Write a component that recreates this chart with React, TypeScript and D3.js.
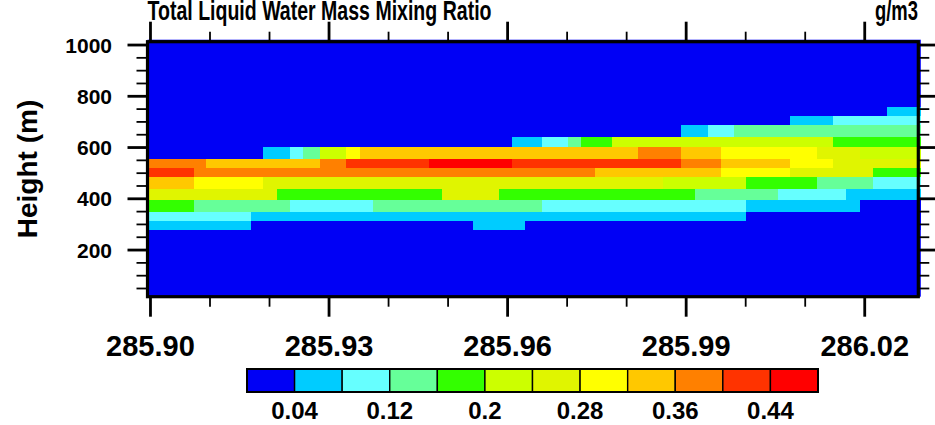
import React, { useEffect, useRef } from "react";
import * as d3 from "d3";

const title = "Total Liquid Water Mass Mixing Ratio";
const units = "g/m3";
const yTitle = "Height (m)";

// contour levels (g/m3) and the 12 fill colours between them
const levels = [0.04, 0.08, 0.12, 0.16, 0.2, 0.24, 0.28, 0.32, 0.36, 0.4, 0.44];
const levelLabels = ["0.04", "0.12", "0.2", "0.28", "0.36", "0.44"];
const fillColors = [
  "#0000f5",
  "#00ccff",
  "#66ffff",
  "#66ff99",
  "#33ff00",
  "#ccff00",
  "#e0f500",
  "#ffff00",
  "#ffc800",
  "#ff8000",
  "#ff3300",
  "#ff0000",
];

const xTicks = [285.9, 285.93, 285.96, 285.99, 286.02];
const xTickLabels = ["285.90", "285.93", "285.96", "285.99", "286.02"];
const yTicks = [200, 400, 600, 800, 1000];

const xExtent = [285.8995, 286.029];
const yExtent = [18, 1013];

// height bounds (m) of the rows that hold cloud water, top to bottom
const rowEdges = [760, 725, 688, 640, 604, 554, 519, 484, 437, 397, 350, 314, 281];

// each row: [x where a run starts, colour index]; a run lasts until the next one
const X0 = xExtent[0];
const rows = [
  [[X0, 0], [286.0237, 1]],
  [[X0, 0], [286.0074, 1], [286.0147, 2]],
  [[X0, 0], [285.9892, 1], [285.9937, 2], [285.998, 3]],
  [[X0, 0], [285.9607, 1], [285.9657, 2], [285.9702, 3], [285.9724, 4], [285.9775, 5], [286.0147, 4]],
  [[X0, 0], [285.9189, 1], [285.9234, 2], [285.9256, 3], [285.9284, 5], [285.9329, 7], [285.9352, 8],
    [285.9819, 9], [285.9892, 8], [285.9959, 7], [286.0119, 6], [286.0192, 5]],
  [[X0, 9], [285.9094, 8], [285.9284, 9], [285.9329, 10], [285.9468, 11], [285.9607, 10],
    [285.9892, 9], [285.9959, 8], [286.0074, 7], [286.0147, 6]],
  [[X0, 10], [285.9073, 9], [285.9746, 8], [285.9959, 7], [286.0074, 6], [286.0214, 4]],
  [[X0, 8], [285.9073, 7], [285.9189, 6], [285.9861, 5], [286.0001, 4], [286.0119, 3], [286.0214, 2]],
  [[X0, 6], [285.9213, 4], [285.9489, 6], [285.9586, 4], [285.9914, 3], [286.0054, 2], [286.0169, 1]],
  [[X0, 4], [285.9073, 3], [285.9234, 2], [285.9374, 3], [285.9657, 2], [286.0001, 1], [286.0192, 0]],
  [[X0, 2], [285.9169, 1], [286.0001, 0]],
  [[X0, 1], [285.9169, 0], [285.9542, 1], [285.9629, 0]],
];

const font = "'Liberation Sans', Arial, Helvetica, sans-serif";

export default function App() {
  const svgRef = useRef(null);
  const width = 935;
  const height = 425;
  const plot = { left: 147.5, right: 918.3, top: 41.7, bottom: 296.7 };

  useEffect(() => {
    const svg = d3.select(svgRef.current);
    svg.selectAll("*").remove();

    const x = d3.scaleLinear().domain(xExtent).range([plot.left, plot.right]);
    const y = d3.scaleLinear().domain(yExtent).range([plot.bottom, plot.top]);

    // raster (runs slightly past the frame top/right like the original)
    svg
      .append("rect")
      .attr("x", plot.left)
      .attr("y", plot.top - 2)
      .attr("width", plot.right - plot.left + 2.5)
      .attr("height", plot.bottom - plot.top + 2)
      .attr("fill", fillColors[0]);

    const cells = [];
    rows.forEach((runs, r) => {
      runs.forEach((run, i) => {
        const next = i < runs.length - 1 ? runs[i + 1][0] : xExtent[1];
        cells.push({ x0: run[0], x1: next, top: rowEdges[r], bot: rowEdges[r + 1], c: run[1], last: i === runs.length - 1 });
      });
    });

    svg
      .append("g")
      .selectAll("rect")
      .data(cells)
      .enter()
      .append("rect")
      .attr("x", (d) => x(d.x0))
      .attr("y", (d) => y(d.top))
      .attr("width", (d) => x(d.x1) - x(d.x0) + (d.last ? 2.5 : 0.4))
      .attr("height", (d) => y(d.bot) - y(d.top) + 0.4)
      .attr("fill", (d) => fillColors[d.c])
      .style("shape-rendering", "crispEdges");

    // ticks on all four sides, pointing outward
    const xMinor = d3.range(285.9, 286.025, 0.01).map((v) => +v.toFixed(2));
    const yMinor = d3.range(50, 1001, 50);

    const tickG = svg.append("g").attr("stroke", "#000");
    const hTick = (v, major) => {
      const len = major ? 20 : 10;
      const sw = major ? 2.8 : 1.8;
      tickG.append("line").attr("x1", x(v)).attr("x2", x(v)).attr("y1", plot.top).attr("y2", plot.top - len).attr("stroke-width", sw);
      tickG.append("line").attr("x1", x(v)).attr("x2", x(v)).attr("y1", plot.bottom).attr("y2", plot.bottom + len).attr("stroke-width", sw);
    };
    const vTick = (v, major) => {
      const len = major ? 20 : 11;
      const sw = major ? 2.8 : 1.8;
      tickG.append("line").attr("y1", y(v)).attr("y2", y(v)).attr("x1", plot.left).attr("x2", plot.left - len).attr("stroke-width", sw);
      tickG.append("line").attr("y1", y(v)).attr("y2", y(v)).attr("x1", plot.right).attr("x2", plot.right + len).attr("stroke-width", sw);
    };
    xMinor.forEach((v) => hTick(v, xTicks.some((t) => Math.abs(t - v) < 1e-6)));
    yMinor.forEach((v) => vTick(v, yTicks.includes(v)));

    // frame
    svg
      .append("rect")
      .attr("x", plot.left)
      .attr("y", plot.top)
      .attr("width", plot.right - plot.left)
      .attr("height", plot.bottom - plot.top)
      .attr("fill", "none")
      .attr("stroke", "#000")
      .attr("stroke-width", 3.2);

    // tick labels
    svg
      .append("g")
      .selectAll("text")
      .data(yTicks)
      .enter()
      .append("text")
      .attr("x", 112)
      .attr("y", (d) => y(d) + 7.5)
      .attr("text-anchor", "end")
      .style("font", `bold 21px ${font}`)
      .text((d) => d);

    svg
      .append("g")
      .selectAll("text")
      .data(xTicks)
      .enter()
      .append("text")
      .attr("x", (d) => x(d))
      .attr("y", 356)
      .attr("text-anchor", "middle")
      .style("font", `bold 29px ${font}`)
      .text((d, i) => xTickLabels[i]);

    // titles
    svg
      .append("text")
      .attr("x", plot.left)
      .attr("y", 20)
      .attr("textLength", 344)
      .attr("lengthAdjust", "spacingAndGlyphs")
      .style("font", `bold 28px ${font}`)
      .text(title);

    svg
      .append("text")
      .attr("x", 875)
      .attr("y", 20)
      .attr("textLength", 43)
      .attr("lengthAdjust", "spacingAndGlyphs")
      .style("font", `bold 28px ${font}`)
      .text(units);

    svg
      .append("text")
      .attr("transform", `translate(37,169) rotate(-90)`)
      .attr("text-anchor", "middle")
      .style("font", `bold 28px ${font}`)
      .text(yTitle);

    // colour bar
    const cb = d3.scaleLinear().domain([0, fillColors.length]).range([247, 818]);
    const cbTop = 369;
    const cbH = 23;
    svg
      .append("g")
      .selectAll("rect")
      .data(fillColors)
      .enter()
      .append("rect")
      .attr("x", (d, i) => cb(i))
      .attr("y", cbTop)
      .attr("width", (d, i) => cb(i + 1) - cb(i))
      .attr("height", cbH)
      .attr("fill", (d) => d)
      .attr("stroke", "#000")
      .attr("stroke-width", 1.4);

    svg
      .append("rect")
      .attr("x", cb(0))
      .attr("y", cbTop)
      .attr("width", cb(fillColors.length) - cb(0))
      .attr("height", cbH)
      .attr("fill", "none")
      .attr("stroke", "#000")
      .attr("stroke-width", 2);

    svg
      .append("g")
      .selectAll("text")
      .data(levelLabels)
      .enter()
      .append("text")
      .attr("x", (d) => cb(levels.indexOf(+d) + 1))
      .attr("y", 419)
      .attr("text-anchor", "middle")
      .style("font", `bold 24px ${font}`)
      .text((d) => d);
  }, []);

  return (
    <svg
      ref={svgRef}
      width={width}
      height={height}
      style={{ position: "absolute", left: 0, top: 0, background: "#fff", display: "block" }}
    ></svg>
  );
}
